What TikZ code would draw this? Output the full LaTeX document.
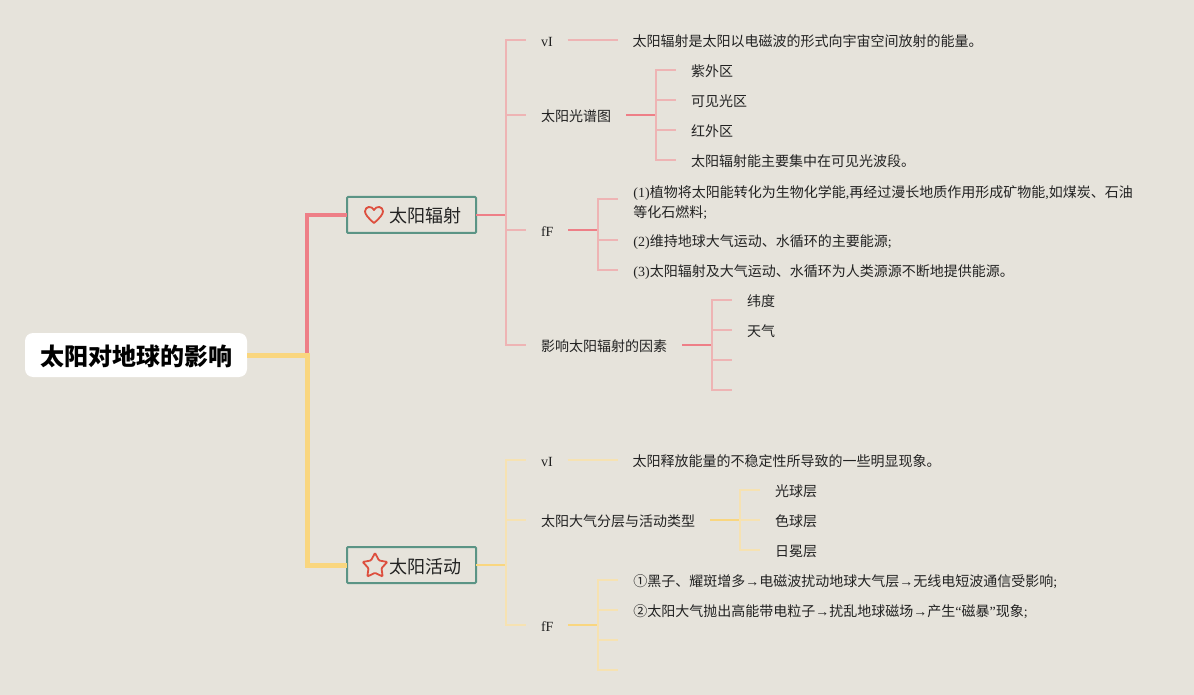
\documentclass[tikz,border=0pt]{standalone}
\usepackage{fontspec}
\usepackage{xcolor}
\usetikzlibrary{positioning,shapes.geometric,calc}
\setmainfont{Noto Sans CJK SC}
\newfontfamily\latinfont{Liberation Serif}
\newcommand{\lat}[1]{{\latinfont #1}}
\definecolor{paper}{HTML}{E6E3DB}
\definecolor{redmain}{HTML}{EE7F87}
\definecolor{redtwig}{HTML}{EEB4B4}
\definecolor{yellowmain}{HTML}{F9D67F}
\definecolor{yellowtwig}{HTML}{F6E2B2}
\definecolor{boxteal}{HTML}{5B9485}
\definecolor{iconred}{HTML}{DD4F3E}
\definecolor{inktext}{HTML}{222222}
\begin{document}
\begin{tikzpicture}[
    x=1pt, y=-1pt,
    node distance=13pt,
    rootbox/.style={rectangle, fill=white, minimum width=222pt, minimum height=44pt, rounded corners=8pt, text height=24pt, text depth=3pt, font=\fontsize{24}{28}\selectfont\bfseries, text=black},
    topicbox/.style={rectangle, draw=boxteal, line width=2pt, outer sep=0pt, fill=paper, minimum height=36pt, inner xsep=15pt, rounded corners=1pt, text height=18pt, text depth=2pt, font=\fontsize{18}{22}\selectfont, text=inktext},
    note/.style={rectangle, inner xsep=15pt, inner ysep=0pt, outer sep=0pt, text height=15pt, text depth=2pt, align=left, font=\fontsize{14}{20}\selectfont, text=inktext},
    trunk/.style={draw=#1, line width=4pt},
    stub/.style={draw=#1, line width=2pt},
    twig/.style={draw=#1, line width=2pt},
]
\path[fill=paper, use as bounding box] (0,0) rectangle (1194,695);

\node[rootbox] (root) at (136,355) {太阳对地球的影响};
\coordinate[right=60pt of root] (rootfork);
\node[topicbox, anchor=west] (radiation) at (347,215) {\hspace*{27pt}太阳辐射\hspace*{0pt}};
\node[topicbox, anchor=west] (activity) at (347,565) {\hspace*{27pt}太阳活动\hspace*{0pt}};

\draw[trunk=redmain] (rootfork) |- (radiation.west);
\draw[trunk=yellowmain, line width=5pt] (root.east) -- (rootfork) |- (activity.west);

\draw[iconred, line width=1.8pt, line join=round, shift={($(radiation.west)+(27,0)$)}] (0,8) .. controls (-6,3) and (-9,-1) .. (-9,-3.5) .. controls (-9,-9) and (-2,-9.5) .. (0,-5) .. controls (2,-9.5) and (9,-9) .. (9,-3.5) .. controls (9,-1) and (6,3) .. (0,8) -- cycle;
\node[star, star points=5, star point ratio=1.9, draw=iconred, line width=1.8pt, rounded corners=1pt, minimum size=26pt, inner sep=0pt] (staricon) at ($(activity.west)+(28,1)$) {};

\coordinate[right=30pt of radiation] (radiationfork);
\node[note, anchor=west] (radvi) at ($(radiationfork)+(20,-175)$) {\lat{vI}};
\node[note, anchor=west] (spectrum) at ($(radiationfork)+(20,-100)$) {太阳光谱图};
\node[note, anchor=west] (radff) at ($(radiationfork)+(20,15)$) {\lat{fF}};
\node[note, anchor=west] (factors) at ($(radiationfork)+(20,130)$) {影响太阳辐射的因素};
\draw[stub=redmain] (radiation) -- (radiationfork);
\foreach \leaf in {radvi,spectrum,radff,factors}
    \draw[twig=redtwig] (radiationfork) |- (\leaf.west);

\node[note, right=50pt of radvi] (radmeaning) {太阳辐射是太阳以电磁波的形式向宇宙空间放射的能量。};
\draw[twig=redtwig] (radvi) -- (radmeaning);

\coordinate[right=30pt of spectrum] (spectrumfork);
\node[note, anchor=west] (ultraviolet) at ($(spectrumfork)+(20,-45)$) {紫外区};
\node[note, below=of ultraviolet.south west, anchor=north west] (visible) {可见光区};
\node[note, below=of visible.south west, anchor=north west] (infrared) {红外区};
\node[note, below=of infrared.south west, anchor=north west] (mostly) {太阳辐射能主要集中在可见光波段。};
\draw[stub=redmain] (spectrum) -- (spectrumfork);
\foreach \leaf in {ultraviolet,visible,infrared,mostly}
    \draw[twig=redtwig] (spectrumfork) |- (\leaf.west);

\coordinate[right=30pt of radff] (radfffork);
\node[note, anchor=west, text height=, text depth=] (fossil) at ($(radfffork)+(20,-31)$) {\rule{0pt}{19pt}\lat{(1)}植物将太阳能转化为生物化学能\lat{,}再经过漫长地质作用形成矿物能\lat{,}如煤炭、石油\\等化石燃料\lat{;}};
\node[note, anchor=west] (sustain) at ($(radfffork)+(20,10)$) {\lat{(2)}维持地球大气运动、水循环的主要能源\lat{;}};
\node[note, below=of sustain.south west, anchor=north west] (supply) {\lat{(3)}太阳辐射及大气运动、水循环为人类源源不断地提供能源。};
\draw[stub=redmain] (radff) -- (radfffork);
\foreach \leaf in {fossil,sustain,supply}
    \draw[twig=redtwig] (radfffork) |- (\leaf.west);

\coordinate[right=30pt of factors] (factorsfork);
\node[note, anchor=west] (latitude) at ($(factorsfork)+(20,-45)$) {纬度};
\node[note, below=of latitude.south west, anchor=north west] (weather) {天气};
\coordinate (factorblanka) at ($(factorsfork)+(20,15)$);
\coordinate (factorblankb) at ($(factorsfork)+(20,45)$);
\draw[stub=redmain] (factors) -- (factorsfork);
\foreach \leaf in {latitude.west,weather.west,factorblanka,factorblankb}
    \draw[twig=redtwig] (factorsfork) |- (\leaf);

\coordinate[right=30pt of activity] (activityfork);
\node[note, anchor=west] (actvi) at ($(activityfork)+(20,-105)$) {\lat{vI}};
\node[note, anchor=west] (layers) at ($(activityfork)+(20,-45)$) {太阳大气分层与活动类型};
\node[note, anchor=west] (actff) at ($(activityfork)+(20,60)$) {\lat{fF}};
\draw[stub=yellowmain] (activity) -- (activityfork);
\foreach \leaf in {actvi,layers,actff}
    \draw[twig=yellowtwig] (activityfork) |- (\leaf.west);

\node[note, right=50pt of actvi] (actmeaning) {太阳释放能量的不稳定性所导致的一些明显现象。};
\draw[twig=yellowtwig] (actvi) -- (actmeaning);

\coordinate[right=30pt of layers] (layersfork);
\node[note, anchor=west] (photosphere) at ($(layersfork)+(20,-30)$) {光球层};
\node[note, below=of photosphere.south west, anchor=north west] (chromosphere) {色球层};
\node[note, below=of chromosphere.south west, anchor=north west] (corona) {日冕层};
\draw[stub=yellowmain] (layers) -- (layersfork);
\foreach \leaf in {photosphere,chromosphere,corona}
    \draw[twig=yellowtwig] (layersfork) |- (\leaf.west);

\coordinate[right=30pt of actff] (actfffork);
\node[note, anchor=west] (sunspots) at ($(actfffork)+(20,-45)$) {①黑子、耀斑增多\lat{→}电磁波扰动地球大气层\lat{→}无线电短波通信受影响\lat{;}};
\node[note, below=of sunspots.south west, anchor=north west] (particles) {②太阳大气抛出高能带电粒子\lat{→}扰乱地球磁场\lat{→}产生\lat{“}磁暴\lat{”}现象\lat{;}};
\coordinate (actblanka) at ($(actfffork)+(20,15)$);
\coordinate (actblankb) at ($(actfffork)+(20,45)$);
\draw[stub=yellowmain] (actff) -- (actfffork);
\foreach \leaf in {sunspots.west,particles.west,actblanka,actblankb}
    \draw[twig=yellowtwig] (actfffork) |- (\leaf);
\end{tikzpicture}
\end{document}
